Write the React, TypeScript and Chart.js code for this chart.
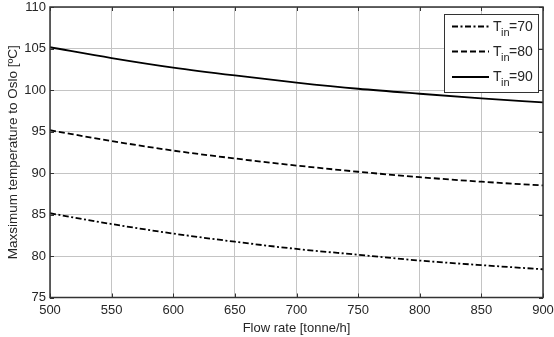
import React, { useEffect, useRef } from "react";
import { Chart, registerables } from "chart.js";

Chart.register(...registerables);

// Flow rate [tonne/h]
const flowRates = [500, 550, 600, 650, 700, 750, 800, 850, 900];
// Maximum temperature reaching Oslo [°C] for each inlet temperature
const tempIn70 = [85.15, 83.85, 82.7, 81.72, 80.85, 80.15, 79.45, 78.9, 78.4];
const tempIn80 = [95.15, 93.85, 92.7, 91.75, 90.9, 90.15, 89.5, 88.95, 88.5];
const tempIn90 = [105.15, 103.85, 102.7, 101.75, 100.9, 100.15, 99.55, 99.0, 98.5];

const seriesLabels = ["70", "80", "90"];
const xTicks = [500, 550, 600, 650, 700, 750, 800, 850, 900];
const yTicks = [75, 80, 85, 90, 95, 100, 105, 110];

const FONT = "'Liberation Sans', Arial, sans-serif";
const TEXT = "#262626";
const dashes: number[][] = [[6, 2.5, 2, 2.5], [6, 3], []];

// Box frame with inward tick marks on all four sides, plus the legend
const framePlugin = {
  id: "frame",
  afterDatasetsDraw(chart: any) {
    const { ctx, chartArea: a, scales } = chart;
    const xs = scales.x;
    const ys = scales.y;
    ctx.save();
    ctx.strokeStyle = "#333";
    ctx.lineWidth = 1;
    const t = 4;
    ctx.beginPath();
    xTicks.forEach((v) => {
      const px = Math.round(xs.getPixelForValue(v)) + 0.5;
      ctx.moveTo(px, a.bottom);
      ctx.lineTo(px, a.bottom - t);
      ctx.moveTo(px, a.top);
      ctx.lineTo(px, a.top + t);
    });
    yTicks.forEach((v) => {
      const py = Math.round(ys.getPixelForValue(v)) + 0.5;
      ctx.moveTo(a.left, py);
      ctx.lineTo(a.left + t, py);
      ctx.moveTo(a.right, py);
      ctx.lineTo(a.right - t, py);
    });
    ctx.stroke();
    ctx.lineWidth = 1.5;
    ctx.strokeRect(a.left, a.top, a.right - a.left, a.bottom - a.top);

    // legend
    const bx = 444.5;
    const by = 14.5;
    const bw = 94;
    const bh = 78;
    ctx.fillStyle = "#fff";
    ctx.fillRect(bx, by, bw, bh);
    ctx.lineWidth = 1;
    ctx.strokeStyle = "#333";
    ctx.strokeRect(bx, by, bw, bh);
    const rows = [26.5, 51.5, 77];
    rows.forEach((ry, i) => {
      ctx.beginPath();
      ctx.setLineDash(dashes[i]);
      ctx.lineWidth = 1.8;
      ctx.strokeStyle = "#000";
      ctx.moveTo(452, ry);
      ctx.lineTo(489, ry);
      ctx.stroke();
      ctx.setLineDash([]);
      ctx.fillStyle = TEXT;
      ctx.textBaseline = "alphabetic";
      ctx.textAlign = "left";
      ctx.font = `14px ${FONT}`;
      ctx.fillText("T", 493, ry + 4);
      const tw = ctx.measureText("T").width;
      ctx.font = `11px ${FONT}`;
      ctx.fillText("in", 493 + tw - 0.5, ry + 9);
      const iw = ctx.measureText("in").width;
      ctx.font = `14px ${FONT}`;
      ctx.fillText("=" + seriesLabels[i], 493 + tw + iw - 1, ry + 4);
    });
    ctx.restore();
  },
};

export default function App() {
  const ref = useRef<HTMLCanvasElement | null>(null);

  useEffect(() => {
    if (!ref.current) return;
    const all = [tempIn70, tempIn80, tempIn90];
    const chart = new Chart(ref.current, {
      type: "line",
      data: {
        datasets: all.map((vals, i) => ({
          label: "T_in=" + seriesLabels[i],
          data: flowRates.map((x, j) => ({ x, y: vals[j] })),
          borderColor: "#000",
          borderWidth: 1.8,
          borderDash: dashes[i],
          pointRadius: 0,
          fill: false,
          cubicInterpolationMode: "monotone" as const,
        })),
      },
      options: {
        responsive: false,
        animation: false,
        layout: { padding: { top: 7, right: 11, left: 0, bottom: 0 } },
        plugins: { legend: { display: false }, tooltip: { enabled: false } },
        scales: {
          x: {
            type: "linear",
            min: 500,
            max: 900,
            afterBuildTicks: (s: any) => {
              s.ticks = xTicks.map((v) => ({ value: v }));
            },
            afterFit: (s: any) => {
              s.height = 39.5;
              s.paddingLeft = 0;
              s.paddingRight = 0;
            },
            grid: { color: "#c4c4c4", lineWidth: 1, drawTicks: false },
            border: { display: false },
            ticks: { color: TEXT, font: { family: FONT, size: 13 }, padding: 5, maxRotation: 0 },
            title: {
              display: true,
              text: "Flow rate [tonne/h]",
              color: TEXT,
              font: { family: FONT, size: 13 },
              padding: { top: 0, bottom: 1 },
            },
          },
          y: {
            type: "linear",
            min: 75,
            max: 110,
            afterBuildTicks: (s: any) => {
              s.ticks = yTicks.map((v) => ({ value: v }));
            },
            afterFit: (s: any) => {
              s.width = 50;
              s.paddingTop = 0;
              s.paddingBottom = 0;
            },
            grid: { color: "#c4c4c4", lineWidth: 1, drawTicks: false },
            border: { display: false },
            ticks: { color: TEXT, font: { family: FONT, size: 13 }, padding: 4 },
            title: {
              display: true,
              text: "Maxsimum temperature to Oslo [ºC]",
              color: TEXT,
              font: { family: FONT, size: 13.5 },
              padding: { top: 5, bottom: 0 },
            },
          },
        },
      },
      plugins: [framePlugin],
    });
    return () => chart.destroy();
  }, []);

  return (
    <div style={{ position: "fixed", left: 0, top: 0, width: 554, height: 337, background: "#fff" }}>
      <canvas ref={ref} width={554} height={337} />
    </div>
  );
}
